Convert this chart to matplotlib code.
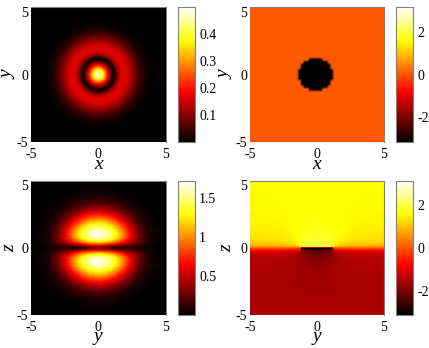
import numpy as np
import matplotlib
matplotlib.use("Agg")
import matplotlib.pyplot as plt
from matplotlib.cm import ScalarMappable
from matplotlib.colors import LinearSegmentedColormap, Normalize

plt.rcParams["font.family"] = ["Liberation Serif", "DejaVu Serif"]

# top left: density in the x-y plane, read along a radius
radial_r = [0, 0.2, 0.4, 0.6, 0.8, 1.0, 1.15, 1.3, 1.5, 1.8, 2.1, 2.4, 2.7, 3.0, 3.3, 3.6, 4.0, 4.5, 5.0, 7.2]
radial_density = [0.49, 0.43, 0.33, 0.22, 0.12, 0.035, 0.001, 0.03, 0.11, 0.165, 0.16, 0.125, 0.085, 0.05,
                  0.025, 0.01, 0.002, 0.0, 0.0, 0.0]

# top right: phase outside and inside the disc, half width of the disc per row (rows 0.2 apart)
phase_outside = 0.04
phase_disc = -3.14
disc_halfwidth = [1.3, 1.3, 1.1, 1.1, 0.9, 0.5]

# bottom left: density in the y-z plane, one quadrant
dens_y = [0, 0.6, 1.2, 1.8, 2.4, 3, 3.6, 4.2, 4.8, 5.5]
dens_z = [0, 0.15, 0.3, 0.5, 0.75, 1, 1.3, 1.6, 2.2, 2.75, 3.3, 3.8, 4.3, 5]
dens_yz = [
    [0.30, 0.15, 0.02, 0.02, 0.10, 0.08, 0.03, 0.01, 0, 0],
    [0.45, 0.38, 0.25, 0.18, 0.18, 0.12, 0.05, 0.015, 0, 0],
    [0.85, 0.78, 0.62, 0.45, 0.32, 0.18, 0.07, 0.02, 0, 0],
    [1.30, 1.22, 1.02, 0.75, 0.48, 0.25, 0.09, 0.025, 0.005, 0],
    [1.60, 1.50, 1.28, 0.95, 0.58, 0.28, 0.10, 0.03, 0.005, 0],
    [1.70, 1.60, 1.35, 1.00, 0.60, 0.28, 0.10, 0.03, 0.005, 0],
    [1.62, 1.52, 1.28, 0.93, 0.55, 0.25, 0.09, 0.025, 0.005, 0],
    [1.42, 1.33, 1.12, 0.80, 0.47, 0.21, 0.07, 0.02, 0, 0],
    [0.92, 0.85, 0.70, 0.48, 0.27, 0.12, 0.04, 0.01, 0, 0],
    [0.48, 0.44, 0.35, 0.24, 0.13, 0.055, 0.02, 0.005, 0, 0],
    [0.20, 0.18, 0.14, 0.09, 0.05, 0.02, 0.007, 0, 0, 0],
    [0.07, 0.06, 0.05, 0.03, 0.015, 0.006, 0, 0, 0, 0],
    [0.02, 0.02, 0.012, 0.008, 0.004, 0, 0, 0, 0, 0],
    [0, 0, 0, 0, 0, 0, 0, 0, 0, 0],
]

# bottom right: phase in the y-z plane, y >= 0 half
phase_y = [0, 0.6, 1.15, 1.3, 1.7, 2.5, 3.5, 5]
phase_z = [-5, -3, -2, -1.2, -0.6, -0.35, -0.2, -0.1, 0.03, 0.1, 0.2, 0.35, 0.6, 1.2, 2, 3, 5]
phase_yz = [
    [-1.57, -1.57, -1.57, -1.57, -1.57, -1.57, -1.57, -1.57],
    [-1.62, -1.62, -1.6, -1.6, -1.58, -1.57, -1.57, -1.57],
    [-1.7, -1.68, -1.65, -1.63, -1.6, -1.57, -1.57, -1.55],
    [-1.85, -1.8, -1.72, -1.68, -1.6, -1.55, -1.52, -1.5],
    [-2.1, -2.0, -1.8, -1.68, -1.55, -1.48, -1.45, -1.42],
    [-2.3, -2.2, -1.85, -1.6, -1.4, -1.3, -1.25, -1.2],
    [-2.5, -2.4, -2.0, -1.3, -1.1, -1.0, -0.95, -0.9],
    [-3.14, -3.14, -3.0, -0.6, -0.6, -0.55, -0.5, -0.45],
    [-3.14, -3.14, -3.14, 0.1, 0.1, 0.1, 0.1, 0.1],
    [1.9, 1.85, 1.5, 0.7, 0.55, 0.5, 0.45, 0.45],
    [2.0, 1.95, 1.75, 1.3, 1.0, 0.9, 0.85, 0.8],
    [1.95, 1.9, 1.8, 1.5, 1.3, 1.15, 1.1, 1.05],
    [1.85, 1.8, 1.7, 1.6, 1.45, 1.3, 1.25, 1.2],
    [1.7, 1.68, 1.65, 1.62, 1.55, 1.45, 1.42, 1.4],
    [1.62, 1.6, 1.6, 1.6, 1.57, 1.52, 1.5, 1.48],
    [1.57, 1.57, 1.57, 1.57, 1.57, 1.55, 1.53, 1.52],
    [1.55, 1.55, 1.55, 1.55, 1.55, 1.55, 1.55, 1.55],
]

ticks = [-5, 0, 5]
tick_labels = ["-5", "0", "5"]
W, H = 429, 348
GRAY = "#808080"

# black, red, yellow, white ramp with a true black end
HOT = LinearSegmentedColormap.from_list(
    "hot_black", [(0, "#000000"), (0.375, "#ff0000"), (0.75, "#ffff00"), (1, "#ffffff")], N=256)


def pixel_axes(fig, left, top, right, bottom):
    return fig.add_axes([left / W, 1 - bottom / H, (right - left) / W, (bottom - top) / H])


def contour_image(ax, x, y, c, vmin, vmax):
    levels = np.linspace(vmin, vmax, 201)
    ax.contourf(x, y, c, levels=levels, cmap=HOT, vmin=vmin, vmax=vmax, extend="both")


def format_panel(ax, xlabel, ylabel, ylabel_x):
    ax.set_xlim(-5, 5)
    ax.set_ylim(-5, 5)
    ax.set_xticks(ticks)
    ax.set_xticklabels(tick_labels)
    ax.set_yticks(ticks)
    ax.set_yticklabels(tick_labels)
    ax.tick_params(length=0, labelsize=10, pad=2)
    ax.tick_params(axis="x", pad=4)
    ax.get_yticklabels()[-1].set_va("top")
    ax.set_xlabel(xlabel, fontsize=14, fontstyle="italic", va="center")
    ax.set_ylabel(ylabel, fontsize=14, fontstyle="italic", va="center")
    ax.xaxis.set_label_coords(0.5, -0.163)
    ax.yaxis.set_label_coords(ylabel_x, 0.5)
    for side in ["left", "bottom"]:
        ax.spines[side].set_visible(False)
    for side in ["top", "right"]:
        ax.spines[side].set_color(GRAY)
        ax.spines[side].set_linewidth(0.8)


def add_colorbar(fig, cax, vmin, vmax, cticks, clabels):
    cb = fig.colorbar(ScalarMappable(Normalize(vmin, vmax), cmap=HOT), cax=cax)
    cb.set_ticks(cticks)
    cb.set_ticklabels(clabels)
    cb.ax.tick_params(length=0, labelsize=10, pad=3)
    cb.outline.set_edgecolor(GRAY)
    cb.outline.set_linewidth(0.8)


def main():
    fig = plt.figure(figsize=(W / 100, H / 100), dpi=100)

    # density x-y
    ax = pixel_axes(fig, 31, 7, 165.5, 142)
    theta = np.linspace(0, 2 * np.pi, 181)
    rr, tt = np.meshgrid(radial_r, theta)
    cc = np.tile(radial_density, (len(theta), 1))
    contour_image(ax, rr * np.cos(tt), rr * np.sin(tt), cc, 0, 0.5)
    format_panel(ax, "x", "y", -0.17)
    add_colorbar(fig, pixel_axes(fig, 178, 7, 195, 142), 0, 0.5, [0.1, 0.2, 0.3, 0.4], ["0.1", "0.2", "0.3", "0.4"])

    # phase x-y
    ax = pixel_axes(fig, 250, 7, 384, 142)
    edges = np.linspace(-5, 5, 51)
    centers = (edges[:-1] + edges[1:]) / 2
    phase = np.full((50, 50), phase_outside)
    for i, half in enumerate(disc_halfwidth):
        phase[25 + i, np.abs(centers) < half] = phase_disc
        phase[24 - i, np.abs(centers) < half] = phase_disc
    ax.imshow(phase, cmap=HOT, vmin=-3.14, vmax=3.14, extent=[-5, 5, -5, 5], origin="lower",
              interpolation="bilinear", aspect="auto")
    format_panel(ax, "x", "y", -0.187)
    add_colorbar(fig, pixel_axes(fig, 396, 7, 413, 142), -3.14, 3.14, [-2, 0, 2], ["-2", "0", "2"])

    # density y-z, quadrant mirrored
    ax = pixel_axes(fig, 31, 180.5, 165.5, 315)
    q = np.array(dens_yz)
    y = np.array(dens_y, dtype=float)
    z = np.array(dens_z, dtype=float)
    q = np.hstack([q[:, :0:-1], q])
    q = np.vstack([q[:0:-1], q])
    contour_image(ax, np.r_[-y[:0:-1], y], np.r_[-z[:0:-1], z], q, 0, 1.73)
    format_panel(ax, "y", "z", -0.155)
    add_colorbar(fig, pixel_axes(fig, 178, 180.5, 195, 315), 0, 1.73, [0.5, 1, 1.5], ["0.5", "1", "1.5"])

    # phase y-z, mirrored in y
    ax = pixel_axes(fig, 250, 180.5, 384, 315)
    p = np.array(phase_yz)
    y = np.array(phase_y, dtype=float)
    p = np.hstack([p[:, :0:-1], p])
    contour_image(ax, np.r_[-y[:0:-1], y], phase_z, p, -3.14, 3.14)
    format_panel(ax, "y", "z", -0.175)
    add_colorbar(fig, pixel_axes(fig, 396, 180.5, 413, 315), -3.14, 3.14, [-2, 0, 2], ["-2", "0", "2"])

    fig.savefig("out.png", dpi=100)
    plt.close()


if __name__ == "__main__":
    main()
